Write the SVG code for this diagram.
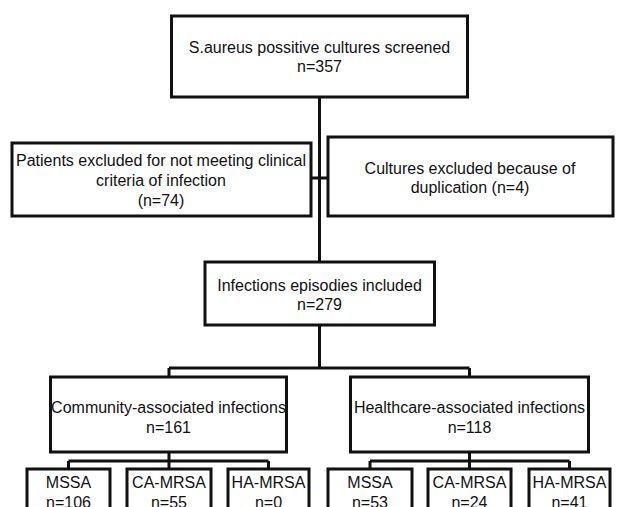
<svg xmlns="http://www.w3.org/2000/svg" width="617" height="507" viewBox="0 0 617 507">
<style>
.box{fill:#fff;stroke:#111;stroke-width:3}
.c{fill:none;stroke:#111;stroke-width:3}
text{font-family:"Liberation Sans",Arial,sans-serif;font-size:16px;fill:#111;text-anchor:middle}
</style>
<rect width="617" height="507" fill="#fff"/>
<g id="connectors">
<path class="c" d="M319.5 97V262M311 178H328M319.5 325V368M169 368H469.5M169 368V377M469.5 368V377"/>
<path class="c" d="M169 452V461M68.5 461H268.5M68.5 461V469M169 461V469M268.5 461V469"/>
<path class="c" d="M469.5 452V461M370 461H569.5M370 461V469M469.5 461V469M569.5 461V469"/>
</g>
<g id="screened"><rect class="box" x="171.5" y="16" width="296" height="81"/>
<text x="319.5" y="52.5">S.aureus possitive cultures screened</text><text x="319.5" y="72">n=357</text></g>
<g id="excluded-clinical"><rect class="box" x="12" y="143" width="299" height="73"/>
<text x="161" y="166">Patients excluded for not meeting clinical</text><text x="161" y="186">criteria of infection</text><text x="161" y="206">(n=74)</text></g>
<g id="excluded-duplication"><rect class="box" x="328" y="137" width="285" height="79"/>
<text x="470" y="174">Cultures excluded because of</text><text x="470" y="193">duplication (n=4)</text></g>
<g id="included"><rect class="box" x="205" y="262" width="229.5" height="63"/>
<text x="319.5" y="291">Infections episodies included</text><text x="319.5" y="310">n=279</text></g>
<g id="community"><rect class="box" x="50.5" y="377" width="236" height="75"/>
<text x="168.5" y="413">Community-associated infections</text><text x="168.5" y="433">n=161</text></g>
<g id="healthcare"><rect class="box" x="350.5" y="377" width="238" height="75"/>
<text x="469.5" y="413">Healthcare-associated infections</text><text x="469.5" y="433">n=118</text></g>
<g id="ca-mssa"><rect class="box" x="27" y="469" width="83" height="60"/>
<text x="68.5" y="488">MSSA</text><text x="68.5" y="507.5">n=106</text></g>
<g id="ca-camrsa"><rect class="box" x="127" y="469" width="84" height="60"/>
<text x="169" y="488">CA-MRSA</text><text x="169" y="507.5">n=55</text></g>
<g id="ca-hamrsa"><rect class="box" x="228" y="469" width="81" height="60"/>
<text x="268.5" y="488">HA-MRSA</text><text x="268.5" y="507.5">n=0</text></g>
<g id="ha-mssa"><rect class="box" x="328" y="469" width="84" height="60"/>
<text x="370" y="488">MSSA</text><text x="370" y="507.5">n=53</text></g>
<g id="ha-camrsa"><rect class="box" x="428" y="469" width="83" height="60"/>
<text x="469.5" y="488">CA-MRSA</text><text x="469.5" y="507.5">n=24</text></g>
<g id="ha-hamrsa"><rect class="box" x="529" y="469" width="81" height="60"/>
<text x="569.5" y="488">HA-MRSA</text><text x="569.5" y="507.5">n=41</text></g>
</svg>
